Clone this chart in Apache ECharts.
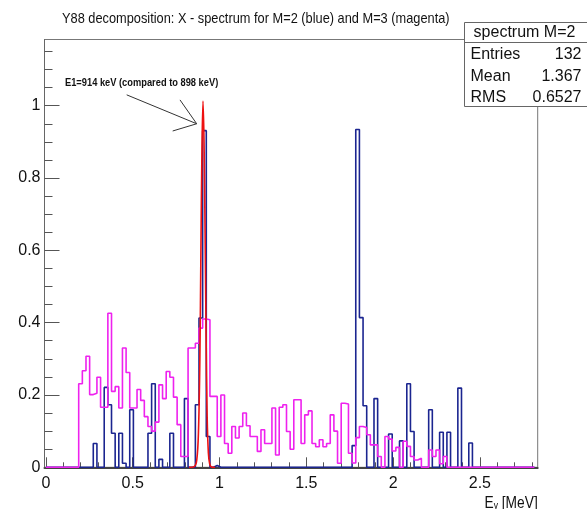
<!DOCTYPE html>
<html><head><meta charset="utf-8">
<script src="https://cdn.jsdelivr.net/npm/echarts@6/dist/echarts.min.js"></script>
<style>html,body{margin:0;padding:0;background:#fff}#c{width:587px;height:509px}</style>
</head><body><div id="c"></div><script>
// ---- data ----
const BIN_WIDTH = 0.021;           // MeV per bin, bins start at 0
const X_MIN = -0.008, X_MAX = 2.833;
const Y_MIN = 0, Y_MAX = 1.183;

// spectrum M=2 (blue)
const m2Values = [
  0,0,0,0,0,0,0,0,0,0,0,0,0,
  0.066,0,0,
  0.221,0.173,0.094,0,0.094,0.011,0,0.159,
  0,0,0,0,
  0.094,0.231,0,0.022,0,0,0.094,0,0,0,0.19,0,0,0.173,0.413,0.931,0.085,0,0.005,
  0,0,0,0,0,0,0,0,0,0,0,0,0,0,0,0,0,0,0,0,0,0,0,0,0,0,0,0,0,0,0,0,0,0,0,0,0,
  0.06,0.934,0.414,0.17,0,0,0.19,0,0,0,0.092,0,0,0.073,0,0.231,0.099,0,0,0,0,0.159,0,0,0.097,0,0.097,0,0,0.219,0,0,0.067,
  0,0,0,0,0,0,0,0,0,0,0,0,0,0,0,0,0
];
// spectrum M=3 (magenta)
const m3Values = [
  0,0,0,0,0,0,0,0,0,
  0.231,0.267,0.307,0.201,0.205,0.249,0.166,0.166,0.426,0.21,
  0.223,0.164,0.33,0.262,0.164,0.164,0.215,0.185,0.14,0.113,
  0.1,0.125,0.228,0.19,0.265,0.249,0.194,0.118,0.03,0.03,
  0.33,0.33,0.343,0.385,0.41,0.408,0.196,0.196,0.085,0.2,
  0.066,0.039,0.113,0.081,0.113,0.15,0.115,0.085,0.085,0.044,
  0.104,0.066,0.066,0.164,0.034,0.166,0.173,0.099,0.05,0.187,
  0.187,0.066,0.145,0.156,0.066,0.057,0.076,0.057,0.066,0.145,
  0.1,0.011,0.177,0.175,0.039,0.012,0.082,0.113,0.11,0.09,
  0.062,0.062,0.03,0,0.085,0.078,0.045,0.055,0,0.072,
  0.058,0.03,0.02,0.025,0,0,0.048,0.03,0.048,0.01,0.03,
  0,0,0,0,0,0,0,0,0,0,0,0,0,0,0,0,0,0,0,0,0,0,0,0
];
// gaussian fit curve (red)
const fitX = [0.824,0.854,0.869,0.879,0.887,0.893,0.899,0.905,0.911,0.917,0.923,0.929,0.936,0.944,0.954,0.974];
const fitY = [0,0.002,0.02,0.1,0.3,0.6,0.88,1.013,0.9,0.65,0.36,0.14,0.04,0.008,0.001,0];

const xMajorTicks = [0,0.5,1,1.5,2,2.5];
const xTickLabels = ['0','0.5','1','1.5','2','2.5'];
const xMinorTicks = [0.1,0.2,0.3,0.4,0.6,0.7,0.8,0.9,1.1,1.2,1.3,1.4,1.6,1.7,1.8,1.9,2.1,2.2,2.3,2.4,2.6,2.7,2.8];
const yMajorTicks = [0,0.2,0.4,0.6,0.8,1];
const yTickLabels = ['0','0.2','0.4','0.6','0.8','1'];
const yMinorTicks = [0.05,0.1,0.15,0.25,0.3,0.35,0.45,0.5,0.55,0.65,0.7,0.75,0.85,0.9,0.95,1.05,1.1,1.15];

const statsTitle = 'spectrum M=2';
const statsRows = [['Entries','132'],['Mean','1.367'],['RMS','0.6527']];
const titleText = 'Y88 decomposition: X - spectrum for M=2 (blue) and M=3 (magenta)';
const annotText = 'E1=914 keV (compared to 898 keV)';

// ---- build ----
function histPoints(values){
  const pts = values.map((v,k)=>[k*BIN_WIDTH, v]);
  pts.push([values.length*BIN_WIDTH, values[values.length-1]]);
  return pts;
}
const FONT = '"Liberation Sans", Arial, sans-serif';
const chart = echarts.init(document.getElementById('c'));
const GRID = {left:44.5, right:49.3, top:39.5, bottom:41.7};

function lbl(list, labels){ return v => { const i = list.findIndex(t=>Math.abs(t-v)<1e-9); return i>=0?labels[i]:''; }; }

chart.setOption({
  animation:false,
  grid:{...GRID, show:true, borderColor:'#777', borderWidth:1, backgroundColor:'transparent'},
  xAxis:[
    {type:'value', min:X_MIN, max:X_MAX, position:'bottom',
     axisLine:{show:true, onZero:false, lineStyle:{color:'#444', width:2}},
     axisTick:{show:true, inside:true, length:10, customValues:xMajorTicks, lineStyle:{color:'#555'}},
     axisLabel:{show:true, customValues:xMajorTicks, formatter:lbl(xMajorTicks,xTickLabels), margin:8, color:'#111', fontFamily:FONT, fontSize:16},
     splitLine:{show:false}},
    {type:'value', min:X_MIN, max:X_MAX, position:'bottom', gridIndex:0,
     axisLine:{show:false, onZero:false},
     axisTick:{show:true, inside:true, length:5, customValues:xMinorTicks, lineStyle:{color:'#555'}},
     axisLabel:{show:false}, splitLine:{show:false}}
  ],
  yAxis:[
    {type:'value', min:Y_MIN, max:Y_MAX, position:'left',
     axisLine:{show:true, onZero:false, lineStyle:{color:'#666', width:1}},
     axisTick:{show:true, inside:true, length:15, customValues:yMajorTicks, lineStyle:{color:'#555'}},
     axisLabel:{show:true, customValues:yMajorTicks, formatter:lbl(yMajorTicks,yTickLabels), margin:4, color:'#111', fontFamily:FONT, fontSize:16},
     splitLine:{show:false}},
    {type:'value', min:Y_MIN, max:Y_MAX, position:'left', offset:0,
     axisLine:{show:false, onZero:false},
     axisTick:{show:true, inside:true, length:8, customValues:yMinorTicks, lineStyle:{color:'#555'}},
     axisLabel:{show:false}, splitLine:{show:false}}
  ],
  series:[
    {name:'M=2', type:'line', step:'end', data:histPoints(m2Values), showSymbol:false, symbol:'none',
     lineStyle:{color:'#1b2590', width:1.6}, z:3},
    {name:'M=3', type:'line', step:'end', data:histPoints(m3Values), showSymbol:false, symbol:'none',
     lineStyle:{color:'#ee22ee', width:1.6}, z:4},
    {name:'fit', type:'line', smooth:0.35, data:fitX.map((x,i)=>[x,fitY[i]]), showSymbol:false, symbol:'none',
     lineStyle:{color:'#ee1111', width:1.6}, z:5}
  ]
});

const P = (x,y)=>chart.convertToPixel({xAxisIndex:0,yAxisIndex:0},[x,y]);
const tip = P(0.8687,0.95), tail = P(0.4654,1.03), h1 = P(0.7725,1.016), h2 = P(0.7304,0.93);
const txt = P(0.110,1.062);
const axEnd = P(X_MAX,0);
const sx = 464.5, sy = 22.5, sw = 130, sh = 84;
const graphics = [
  {type:'text', x:62, y:19, scaleX:0.853, style:{text:titleText, font:'15px '+FONT, fill:'#111', verticalAlign:'middle'}, z:20},
  {type:'line', shape:{x1:tail[0],y1:tail[1],x2:tip[0],y2:tip[1]}, style:{stroke:'#333',lineWidth:1}, z:20},
  {type:'line', shape:{x1:h1[0],y1:h1[1],x2:tip[0],y2:tip[1]}, style:{stroke:'#333',lineWidth:1}, z:20},
  {type:'line', shape:{x1:h2[0],y1:h2[1],x2:tip[0],y2:tip[1]}, style:{stroke:'#333',lineWidth:1}, z:20},
  {type:'text', x:txt[0], y:txt[1], scaleX:0.93, style:{text:annotText, font:'bold 10px '+FONT, fill:'#111', verticalAlign:'middle'}, z:20},
  {type:'rect', shape:{x:sx,y:sy,width:sw,height:sh}, style:{fill:'#fff',stroke:'#666',lineWidth:1}, z:30},
  {type:'line', shape:{x1:sx,y1:sy+20,x2:sx+sw,y2:sy+20}, style:{stroke:'#666',lineWidth:1}, z:31},
  {type:'text', x:sx+60, y:sy+10, style:{text:statsTitle, font:'16px '+FONT, fill:'#111', align:'center', verticalAlign:'middle'}, z:31},
  {type:'text', x:axEnd[0], y:axEnd[1]+34, scaleX:0.86, style:{text:'{e|E}{g|γ}{e| [MeV]}', fill:'#111', align:'right', verticalAlign:'middle',
    rich:{e:{fontFamily:FONT,fontSize:16,lineHeight:20,verticalAlign:'bottom'}, g:{fontFamily:FONT,fontSize:10,lineHeight:10,verticalAlign:'bottom'}}}, z:20}
];
statsRows.forEach((r,i)=>{
  const y = sy + 32.5 + i*21.5;
  graphics.push({type:'text', x:sx+6, y:y, style:{text:r[0], font:'16px '+FONT, fill:'#111', verticalAlign:'middle'}, z:31});
  graphics.push({type:'text', x:sx+117, y:y, style:{text:r[1], font:'16px '+FONT, fill:'#111', align:'right', verticalAlign:'middle'}, z:31});
});
chart.setOption({graphic:graphics});
</script></body></html>
